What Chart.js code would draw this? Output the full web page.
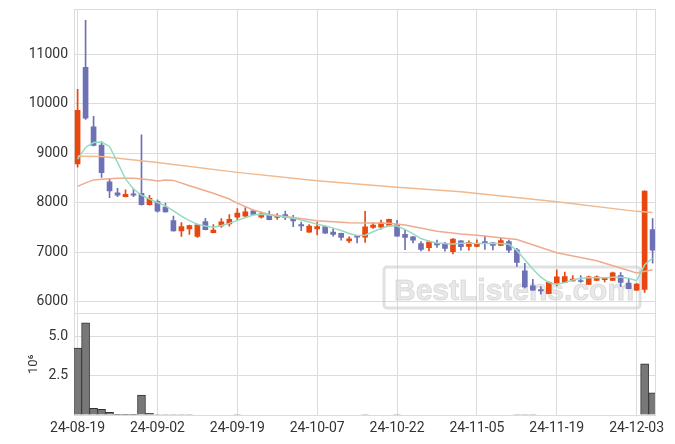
<!DOCTYPE html>
<html>
<head>
<meta charset="utf-8">
<script src="https://cdn.jsdelivr.net/npm/chart.js@4"></script>
<style>
  html, body { margin: 0; padding: 0; background: #fff; }
  canvas { display: block; }
</style>
</head>
<body>
<canvas id="c" width="675" height="444"></canvas>
<script>
// candles, one per trading day (index 0 = 24-08-19)
const OPEN = [8785, 10730, 9530, 9165, 8420, 8200, 8120, 8180, 8190, 7960,
  8030, 7910, 7640, 7430, 7470, 7320, 7620, 7395, 7530, 7570,
  7710, 7730, 7835, 7710, 7765, 7705, 7760, 7705, 7560, 7405,
  7470, 7520, 7405, 7380, 7230, 7335, 7305, 7500, 7505, 7540,
  7560, 7360, 7310, 7175, 7095, 7180, 7175, 7010, 7230, 7120,
  7120, 7215, 7190, 7140, 7215, 7050, 6625, 6320, 6245, 6165,
  6375, 6390, 6420, 6430, 6350, 6430, 6445, 6430, 6530, 6380,
  6235, 6250, 7460];
const HIGH = [10290, 11680, 9745, 9235, 8490, 8290, 8260, 8280, 9370, 8150,
  8060, 7990, 7730, 7600, 7550, 7570, 7685, 7560, 7680, 7760,
  7880, 7900, 7850, 7810, 7830, 7780, 7830, 7745, 7610, 7560,
  7610, 7530, 7475, 7385, 7310, 7340, 7825, 7595, 7650, 7670,
  7645, 7440, 7320, 7215, 7230, 7245, 7200, 7275, 7235, 7230,
  7250, 7330, 7195, 7290, 7245, 7080, 6775, 6455, 6305, 6405,
  6645, 6600, 6530, 6530, 6520, 6525, 6495, 6600, 6590, 6470,
  6375, 8240, 7680];
const LOW = [8715, 9680, 9145, 8510, 8100, 8120, 8115, 8120, 7950, 7950,
  7810, 7810, 7425, 7320, 7360, 7300, 7450, 7390, 7500, 7525,
  7660, 7725, 7760, 7690, 7655, 7665, 7660, 7515, 7435, 7400,
  7350, 7380, 7325, 7245, 7195, 7190, 7200, 7480, 7465, 7520,
  7320, 7050, 7190, 7025, 7025, 7100, 7020, 6965, 7040, 7040,
  7110, 7055, 7045, 7135, 6990, 6715, 6280, 6230, 6155, 6160,
  6320, 6385, 6415, 6390, 6345, 6425, 6400, 6425, 6305, 6260,
  6225, 6190, 6780];
const CLOSE = [9865, 9705, 9155, 8605, 8240, 8150, 8170, 8150, 7960, 8090,
  7830, 7815, 7430, 7520, 7540, 7555, 7455, 7445, 7615, 7665,
  7790, 7815, 7765, 7775, 7660, 7730, 7700, 7630, 7530, 7530,
  7520, 7385, 7360, 7300, 7270, 7305, 7515, 7550, 7595, 7665,
  7325, 7300, 7245, 7055, 7210, 7150, 7075, 7265, 7115, 7195,
  7170, 7180, 7140, 7235, 7040, 6795, 6300, 6235, 6220, 6395,
  6505, 6510, 6460, 6410, 6505, 6505, 6485, 6585, 6390, 6265,
  6360, 8235, 7040];

// volume, millions
const VOLUME = [4.29, 5.90, 0.43, 0.36, 0.17, 0.04, 0.04, 0.04, 1.27, 0.11,
  0.03, 0.03, 0.03, 0.03, 0.03, 0, 0, 0, 0, 0,
  0.03, 0, 0, 0, 0, 0, 0, 0, 0, 0,
  0, 0, 0, 0, 0, 0, 0.03, 0, 0, 0,
  0.03, 0, 0, 0, 0, 0, 0, 0, 0, 0,
  0, 0, 0, 0, 0, 0.03, 0.03, 0.03, 0, 0,
  0, 0, 0, 0, 0, 0, 0, 0, 0, 0,
  0, 3.28, 1.42];

// moving averages
const MA_FAST = [8880, 9115, 9215, 9225, 9135, 8815, 8479, 8275, 8153, 8072,
  8004, 7935, 7833, 7731, 7638, 7562, 7528, 7507, 7542, 7583,
  7644, 7699, 7752, 7766, 7752, 7731, 7711, 7684, 7650, 7609,
  7568, 7528, 7487, 7440, 7379, 7339, 7345, 7414, 7481, 7536,
  7528, 7460, 7372, 7277, 7222, 7189, 7175, 7169, 7182, 7182,
  7175, 7175, 7175, 7175, 7162, 7037, 6849, 6660, 6497, 6387,
  6356, 6387, 6442, 6477, 6483, 6483, 6483, 6497, 6497, 6477,
  6428, 6747, 6884];
const MA_MID_X = [0, 1, 2, 3, 5, 7, 9, 10, 11, 12, 14, 17, 19, 20, 22, 24, 27, 30, 34, 39,
  41, 45, 48, 50, 55, 60, 65, 70, 72];
const MA_MID = [8330, 8400, 8460, 8475, 8495, 8495, 8465, 8440, 8460, 8450, 8343, 8190, 8075, 7990, 7854, 7760, 7699, 7635, 7597, 7583,
  7550, 7426, 7370, 7345, 7257, 6990, 6830, 6580, 6646];
const MA_SLOW_X = [0, 3, 10, 20, 30, 40, 48, 60, 70, 72];
const MA_SLOW = [8935, 8930, 8812, 8612, 8444, 8310, 8220, 8017, 7825, 7800];

const TICK_LABELS = ['24-08-19', '24-09-02', '24-09-19', '24-10-07', '24-10-22', '24-11-05', '24-11-19', '24-12-03'];
const PRICE_TICKS = [6000, 7000, 8000, 9000, 10000, 11000];
const VOLUME_TICKS = [2.5, 5.0];

const UP = '#e8470f';
const DOWN = '#6e71b5';
const GRID = '#dcdcdc';

const X_MIN = -0.45, X_MAX = 72.3;
const P_MIN = 5764, P_MAX = 11909;
const V_MAX = 6.5;

Chart.defaults.font.family = 'Roboto, "DejaVu Sans", sans-serif';
Chart.defaults.font.size = 14;
Chart.defaults.color = '#333';

const candleColors = OPEN.map((o, i) => (CLOSE[i] >= o ? UP : DOWN));
const wicks = OPEN.map((_, i) => ({ x: i, y: [LOW[i], HIGH[i]] }));
const bodies = OPEN.map((o, i) => ({ x: i, y: [o, CLOSE[i]] }));

// scale paddings would push the plot area around, we size it by hand
function noPad(s) {
  s.paddingTop = 0; s.paddingBottom = 0; s.paddingLeft = 0; s.paddingRight = 0;
}

const watermark = {
  id: 'watermark',
  beforeDatasetsDraw(chart) {
    const { ctx } = chart;
    ctx.save();
    ctx.strokeStyle = 'rgba(200,200,200,0.55)';
    ctx.lineWidth = 3;
    ctx.beginPath();
    ctx.roundRect(384, 267, 256, 41, 3);
    ctx.stroke();
    ctx.font = 'bold 30px "Liberation Sans", Arial, sans-serif';
    ctx.fillStyle = 'rgba(215,215,215,0.55)';
    ctx.strokeStyle = 'rgba(190,190,190,0.45)';
    ctx.lineWidth = 1;
    ctx.fillText('BestListens.com', 394, 300);
    ctx.strokeText('BestListens.com', 394, 300);
    ctx.restore();
  },
};

new Chart(document.getElementById('c'), {
  data: {
    datasets: [
      { type: 'line', data: MA_FAST.map((v, i) => ({ x: i, y: v })), borderColor: '#93dbc4', borderWidth: 1.5, pointRadius: 0, yAxisID: 'y', order: 0 },
      { type: 'line', data: MA_MID.map((v, i) => ({ x: MA_MID_X[i], y: v })), borderColor: '#eeab90', borderWidth: 1.5, pointRadius: 0, yAxisID: 'y', order: 0 },
      { type: 'line', data: MA_SLOW.map((v, i) => ({ x: MA_SLOW_X[i], y: v })), borderColor: '#f1b98e', borderWidth: 1.5, pointRadius: 0, yAxisID: 'y', order: 0 },
      { type: 'bar', data: bodies, backgroundColor: candleColors, barThickness: 5, grouped: false, yAxisID: 'y', order: 1 },
      { type: 'bar', data: wicks, backgroundColor: candleColors, barThickness: 1, grouped: false, yAxisID: 'y', order: 2 },
      {
        type: 'bar', data: VOLUME.map((v, i) => ({ x: i, y: v })), backgroundColor: '#787878', borderColor: '#333',
        borderWidth: 1, barThickness: 8, grouped: false, yAxisID: 'yv', order: 3,
      },
    ],
  },
  options: {
    responsive: false,
    animation: false,
    layout: { padding: { top: 9, right: 20, left: 0, bottom: 0 } },
    plugins: { legend: { display: false }, tooltip: { enabled: false } },
    scales: {
      x: {
        type: 'linear',
        offset: false,
        min: X_MIN,
        max: X_MAX,
        grid: { color: GRID, drawTicks: false, offset: false },
        border: { color: GRID },
        afterBuildTicks(s) { s.ticks = [X_MIN, 0, 10, 20, 30, 40, 50, 60, 70, X_MAX].map(v => ({ value: v })); },
        afterFit(s) { s.height = 29; noPad(s); },
        ticks: {
          autoSkip: false, maxRotation: 0, padding: 5,
          callback(v) { return Number.isInteger(v) && v % 10 === 0 ? TICK_LABELS[v / 10] : ''; },
        },
      },
      // volume panel is listed first so that it ends up below the price panel
      yv: {
        type: 'linear',
        position: 'left',
        stack: 'panels',
        stackWeight: 1,
        min: 0,
        max: V_MAX,
        grid: { color: GRID, drawTicks: false },
        border: { color: GRID },
        afterBuildTicks(s) { s.ticks = [0, ...VOLUME_TICKS, V_MAX].map(v => ({ value: v })); },
        afterFit(s) { s.width = 74; noPad(s); },
        title: { display: true, text: '10⁶', font: { size: 13 }, padding: { top: 26, bottom: 0 } },
        ticks: { autoSkip: false, padding: 6, callback(v) { return VOLUME_TICKS.includes(v) ? v.toFixed(1) : ''; } },
      },
      y: {
        type: 'linear',
        position: 'left',
        stack: 'panels',
        stackWeight: 3,
        min: P_MIN,
        max: P_MAX,
        grid: { color: GRID, drawTicks: false },
        border: { color: GRID },
        afterBuildTicks(s) { s.ticks = [P_MIN, ...PRICE_TICKS, P_MAX].map(v => ({ value: v })); },
        afterFit(s) { s.width = 74; noPad(s); },
        ticks: { autoSkip: false, padding: 6, callback(v) { return PRICE_TICKS.includes(v) ? String(v) : ''; } },
      },
    },
  },
  plugins: [watermark],
});
</script>
</body>
</html>
